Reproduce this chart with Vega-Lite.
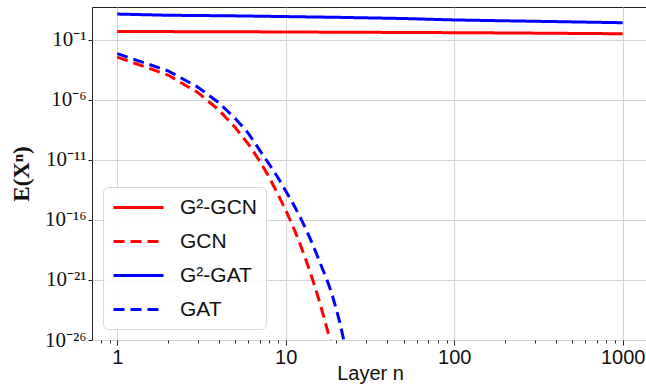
{
  "$schema": "https://vega.github.io/schema/vega-lite/v6.json",
  "width": 556,
  "height": 333,
  "autosize": {"type": "none"},
  "padding": {"left": 92, "top": 7, "right": 0, "bottom": 46},
  "background": "white",
  "config": {
    "view": {"stroke": "#222", "strokeWidth": 1},
    "axis": {"gridColor": "#d4d4d4", "gridWidth": 1, "domain": false, "tickColor": "#222"}
  },
  "data": {
    "values": [
      {"series": "G²-GCN", "n": 1, "E": 0.468},
      {"series": "G²-GCN", "n": 2, "E": 0.457},
      {"series": "G²-GCN", "n": 5, "E": 0.442},
      {"series": "G²-GCN", "n": 10, "E": 0.427},
      {"series": "G²-GCN", "n": 20, "E": 0.407},
      {"series": "G²-GCN", "n": 50, "E": 0.389},
      {"series": "G²-GCN", "n": 100, "E": 0.372},
      {"series": "G²-GCN", "n": 200, "E": 0.355},
      {"series": "G²-GCN", "n": 500, "E": 0.324},
      {"series": "G²-GCN", "n": 1000, "E": 0.302},
      {"series": "GCN", "n": 1, "E": 3.47e-3},
      {"series": "GCN", "n": 2, "E": 1.12e-4},
      {"series": "GCN", "n": 3, "E": 3.98e-6},
      {"series": "GCN", "n": 4, "E": 1.41e-7},
      {"series": "GCN", "n": 5, "E": 5.01e-9},
      {"series": "GCN", "n": 6, "E": 2.0e-10},
      {"series": "GCN", "n": 7, "E": 7.94e-12},
      {"series": "GCN", "n": 8, "E": 3.16e-13},
      {"series": "GCN", "n": 9, "E": 1.26e-14},
      {"series": "GCN", "n": 10, "E": 6.31e-16},
      {"series": "GCN", "n": 11, "E": 3.16e-17},
      {"series": "GCN", "n": 12, "E": 1.58e-18},
      {"series": "GCN", "n": 13, "E": 7.94e-20},
      {"series": "GCN", "n": 14, "E": 3.98e-21},
      {"series": "GCN", "n": 15, "E": 2.0e-22},
      {"series": "GCN", "n": 16, "E": 1.0e-23},
      {"series": "GCN", "n": 17, "E": 5.01e-25},
      {"series": "GCN", "n": 18, "E": 2.51e-26},
      {"series": "GCN", "n": 19, "E": 1.26e-27},
      {"series": "G²-GAT", "n": 1, "E": 13.18},
      {"series": "G²-GAT", "n": 2, "E": 10.47},
      {"series": "G²-GAT", "n": 3, "E": 10.0},
      {"series": "G²-GAT", "n": 5, "E": 9.33},
      {"series": "G²-GAT", "n": 10, "E": 8.13},
      {"series": "G²-GAT", "n": 20, "E": 7.08},
      {"series": "G²-GAT", "n": 50, "E": 5.62},
      {"series": "G²-GAT", "n": 100, "E": 4.27},
      {"series": "G²-GAT", "n": 200, "E": 3.63},
      {"series": "G²-GAT", "n": 500, "E": 2.95},
      {"series": "G²-GAT", "n": 1000, "E": 2.51},
      {"series": "GAT", "n": 1, "E": 6.76e-3},
      {"series": "GAT", "n": 2, "E": 2.51e-4},
      {"series": "GAT", "n": 3, "E": 1.12e-5},
      {"series": "GAT", "n": 4, "E": 5.62e-7},
      {"series": "GAT", "n": 5, "E": 2.82e-8},
      {"series": "GAT", "n": 6, "E": 1.58e-9},
      {"series": "GAT", "n": 7, "E": 6.31e-11},
      {"series": "GAT", "n": 8, "E": 3.98e-12},
      {"series": "GAT", "n": 9, "E": 3.16e-13},
      {"series": "GAT", "n": 10, "E": 2.51e-14},
      {"series": "GAT", "n": 11, "E": 2.51e-15},
      {"series": "GAT", "n": 12, "E": 2.51e-16},
      {"series": "GAT", "n": 13, "E": 2.51e-17},
      {"series": "GAT", "n": 14, "E": 2.51e-18},
      {"series": "GAT", "n": 15, "E": 2.51e-19},
      {"series": "GAT", "n": 16, "E": 2.51e-20},
      {"series": "GAT", "n": 17, "E": 3.16e-21},
      {"series": "GAT", "n": 18, "E": 3.98e-22},
      {"series": "GAT", "n": 19, "E": 3.98e-23},
      {"series": "GAT", "n": 20, "E": 3.16e-24},
      {"series": "GAT", "n": 21, "E": 2.51e-25},
      {"series": "GAT", "n": 22, "E": 1.26e-26},
      {"series": "GAT", "n": 23, "E": 6.31e-28}
    ]
  },
  "layer": [
    {
      "mark": {"type": "line", "strokeWidth": 3, "clip": true},
      "encoding": {
        "x": {
          "field": "n", "type": "quantitative",
          "scale": {"type": "log", "domain": [0.708, 1413], "nice": false},
          "axis": {
            "values": [1, 10, 100, 1000],
            "labelExpr": "format(datum.value, 'd')",
            "title": "Layer n",
            "labelFont": "Liberation Sans", "labelFontSize": 20, "labelColor": "#111",
            "titleFont": "Liberation Sans", "titleFontSize": 20, "titleFontWeight": "normal", "titleColor": "#111",
            "tickSize": 5, "labelPadding": 2, "titleY": 23, "titleBaseline": "top"
          }
        },
        "y": {
          "field": "E", "type": "quantitative",
          "scale": {"type": "log", "domain": [1e-26, 51], "nice": false},
          "axis": {
            "values": [1e-26, 1e-21, 1e-16, 1e-11, 1e-6, 1e-1],
            "labelExpr": "datum.value < 1e-25 ? '10⁻²⁶' : datum.value < 1e-20 ? '10⁻²¹' : datum.value < 1e-15 ? '10⁻¹⁶' : datum.value < 1e-10 ? '10⁻¹¹' : datum.value < 1e-5 ? '10⁻⁶' : '10⁻¹'",
            "title": "E(Xⁿ)",
            "labelFont": "Liberation Serif", "labelFontSize": 21, "labelColor": "#111",
            "titleFont": "Liberation Serif", "titleFontSize": 23, "titleFontWeight": "bold", "titleColor": "#111",
            "tickSize": 4, "labelPadding": 2, "titlePadding": 11
          }
        },
        "color": {
          "field": "series", "type": "nominal",
          "scale": {"domain": ["G²-GCN", "GCN", "G²-GAT", "GAT"], "range": ["#ff0000", "#ff0000", "#0000ff", "#0000ff"]},
          "legend": {
            "title": null,
            "orient": "none", "legendX": 11, "legendY": 180,
            "symbolType": "M-1,0H4", "symbolStrokeWidth": 3, "symbolSize": 400,
            "labelFont": "Liberation Sans", "labelFontSize": 21, "labelColor": "#111",
            "fillColor": "rgba(255,255,255,0.85)", "strokeColor": "#d8d8d8", "cornerRadius": 5,
            "padding": 9, "rowPadding": 12, "labelOffset": 45
          }
        },
        "strokeDash": {
          "field": "series", "type": "nominal",
          "scale": {"domain": ["G²-GCN", "GCN", "G²-GAT", "GAT"], "range": [[1, 0], [11, 6], [1, 0], [11, 6]]},
          "legend": {
            "title": null,
            "orient": "none", "legendX": 11, "legendY": 180,
            "symbolType": "M-1,0H4", "symbolStrokeWidth": 3, "symbolSize": 400,
            "labelFont": "Liberation Sans", "labelFontSize": 21, "labelColor": "#111",
            "fillColor": "rgba(255,255,255,0.85)", "strokeColor": "#d8d8d8", "cornerRadius": 5,
            "padding": 9, "rowPadding": 12, "labelOffset": 45
          }
        }
      }
    },
    {
      "mark": {"type": "point", "opacity": 0},
      "encoding": {
        "x": {
          "field": "n", "type": "quantitative",
          "scale": {"type": "log", "domain": [0.708, 1413], "nice": false},
          "axis": {
            "orient": "bottom",
            "values": [0.8, 0.9, 2, 3, 4, 5, 6, 7, 8, 9, 20, 30, 40, 50, 60, 70, 80, 90, 200, 300, 400, 500, 600, 700, 800, 900],
            "labels": false, "grid": false, "title": null, "tickSize": 3, "tickColor": "#222"
          }
        }
      }
    }
  ],
  "resolve": {"axis": {"x": "independent"}}
}
